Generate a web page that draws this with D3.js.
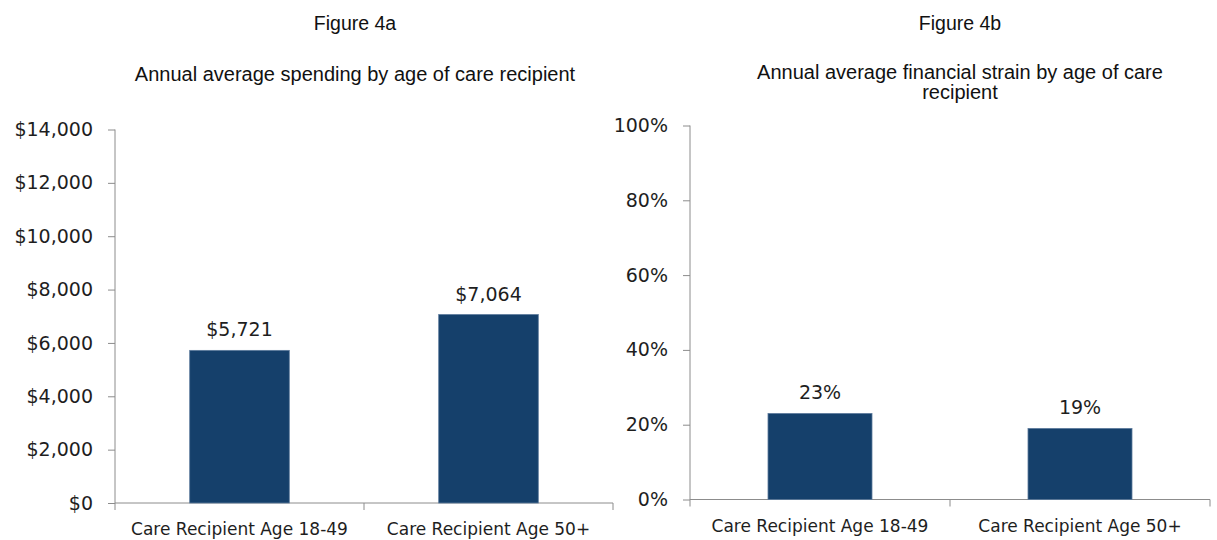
<!DOCTYPE html>
<html>
<head>
<meta charset="utf-8">
<script src="https://cdn.jsdelivr.net/npm/d3@7"></script>
<style>
    body { margin: 0; background: #fff; }
    .title { font-family: "Liberation Sans", Arial, sans-serif; font-size: 20px; fill: #111; }
    .tick text { font-family: "DejaVu Sans", sans-serif; }
</style>
</head>
<body>
<svg id="chart" width="1217" height="540"></svg>
<script>
const categories = ["Care Recipient Age 18-49", "Care Recipient Age 50+"];

const spendingValues = [5721, 7064];
const spendingTicks = [0, 2000, 4000, 6000, 8000, 10000, 12000, 14000];

const strainValues = [0.23, 0.19];
const strainTicks = [0, 0.2, 0.4, 0.6, 0.8, 1.0];

const AXIS_COLOR = "#8c8c8c";
const BAR_COLOR = "#15406b";

const svg = d3.select("#chart");

svg.append("rect").attr("width", 1217).attr("height", 540).attr("fill", "#fff");

function drawPanel(opts) {
    const g = svg.append("g");

    // titles
    g.append("text")
        .attr("class", "title")
        .attr("x", opts.titleX)
        .attr("y", 30)
        .attr("text-anchor", "middle")
        .attr("font-size", 19.5)
        .style("font-size", "19.5px")
        .text(opts.figure);

    opts.title.forEach((line, i) => {
        g.append("text")
            .attr("class", "title")
            .attr("x", opts.titleX)
            .attr("y", opts.titleY + i * 20)
            .attr("text-anchor", "middle")
            .text(line);
    });

    const x = d3.scaleBand()
        .domain(categories)
        .range([opts.left, opts.right]);

    const y = d3.scaleLinear()
        .domain(opts.domain)
        .range([opts.bottom, opts.top]);

    // y axis
    const yAxis = d3.axisLeft(y)
        .tickValues(opts.ticks)
        .tickFormat(opts.format)
        .tickSize(7)
        .tickSizeOuter(0)
        .tickPadding(15);

    const yg = g.append("g")
        .attr("transform", `translate(${opts.left},0)`)
        .call(yAxis);
    yg.select(".domain").attr("stroke", AXIS_COLOR).attr("d", `M0,${opts.top}V${opts.bottom + 7}`);
    yg.selectAll(".tick line").attr("stroke", AXIS_COLOR);
    yg.selectAll(".tick text").attr("font-size", 19).attr("fill", "#1e1e1e");

    // x axis: labels under band centres, ticks at band edges
    const xAxis = d3.axisBottom(x).tickSize(0).tickPadding(20);
    const xg = g.append("g")
        .attr("transform", `translate(0,${opts.bottom})`)
        .call(xAxis);
    xg.select(".domain").attr("stroke", AXIS_COLOR).attr("d", `M${opts.left},0H${opts.right}`);
    xg.selectAll(".tick text").attr("font-size", 17).attr("fill", "#1e1e1e");

    const edges = categories.map(c => x(c)).concat([x.range()[1]]);
    xg.selectAll(".edge")
        .data(edges.slice(1))
        .join("line")
        .attr("class", "edge")
        .attr("x1", d => d).attr("x2", d => d)
        .attr("y1", 0).attr("y2", 7)
        .attr("stroke", AXIS_COLOR);

    // bars
    const barW = x.bandwidth() * 0.4;
    g.selectAll(".bar")
        .data(opts.values)
        .join("rect")
        .attr("class", "bar")
        .attr("x", (d, i) => x(categories[i]) + (x.bandwidth() - barW) / 2)
        .attr("y", d => y(d))
        .attr("width", barW)
        .attr("height", d => opts.bottom - y(d))
        .attr("fill", BAR_COLOR)
        .attr("stroke", "#5d7b9c")
        .attr("stroke-width", 0.8);

    // value labels
    g.selectAll(".value")
        .data(opts.values)
        .join("text")
        .attr("class", "value")
        .attr("x", (d, i) => x(categories[i]) + x.bandwidth() / 2)
        .attr("y", d => y(d) - 14)
        .attr("text-anchor", "middle")
        .attr("font-family", "DejaVu Sans, sans-serif")
        .attr("font-size", 19)
        .attr("fill", "#1e1e1e")
        .text(opts.labelFormat);
}

drawPanel({
    figure: "Figure 4a",
    title: ["Annual average spending by age of care recipient"],
    titleX: 355,
    titleY: 81,
    left: 115,
    right: 613,
    top: 129.5,
    bottom: 503,
    domain: [0, 14000],
    ticks: spendingTicks,
    format: d => "$" + d3.format(",")(d),
    values: spendingValues,
    labelFormat: d => "$" + d3.format(",")(d)
});

drawPanel({
    figure: "Figure 4b",
    title: ["Annual average financial strain by age of care", "recipient"],
    titleX: 960,
    titleY: 79,
    left: 690,
    right: 1210,
    top: 125.5,
    bottom: 499.5,
    domain: [0, 1],
    ticks: strainTicks,
    format: d3.format(".0%"),
    values: strainValues,
    labelFormat: d3.format(".0%")
});
</script>
</body>
</html>
